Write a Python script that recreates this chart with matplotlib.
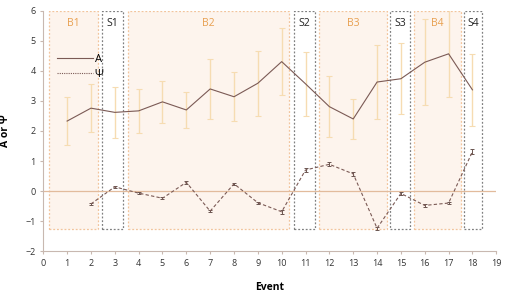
import matplotlib
matplotlib.use("Agg")
import matplotlib.pyplot as plt
from matplotlib.patches import Rectangle
from matplotlib.lines import Line2D

plt.rcParams['font.family'] = ['Open Sans', 'DejaVu Sans']

events = list(range(1, 19))
A = [2.33, 2.76, 2.62, 2.67, 2.97, 2.70, 3.40, 3.14, 3.59, 4.31, 3.57, 2.81, 2.40, 3.63, 3.74, 4.29, 4.57, 3.37]
A_err = [0.79, 0.81, 0.84, 0.73, 0.69, 0.60, 1.00, 0.81, 1.09, 1.11, 1.06, 1.02, 0.67, 1.23, 1.19, 1.43, 1.45, 1.21]
psi_events = list(range(2, 19))
psi = [-0.43, 0.14, -0.07, -0.24, 0.29, -0.67, 0.24, -0.39, -0.69, 0.70, 0.89, 0.57, -1.24, -0.08, -0.48, -0.40, 1.31]
psi_err = [0.04, 0.04, 0.04, 0.03, 0.04, 0.04, 0.04, 0.03, 0.07, 0.07, 0.07, 0.06, 0.05, 0.06, 0.04, 0.03, 0.08]

blocks = ["B1", "S1", "B2", "S2", "B3", "S3", "B4", "S4"]
block_start = [0.25, 2.46, 3.57, 10.5, 11.58, 14.54, 15.54, 17.66]
block_end = [2.28, 3.36, 10.3, 11.4, 14.42, 15.38, 17.5, 18.42]
block_top = 6.0
block_bottom = -1.27

fig = plt.figure(figsize=(5.09, 2.94), dpi=100)
ax = fig.add_axes([0.085, 0.146, 0.89, 0.817])

for name, s, e in zip(blocks, block_start, block_end):
    if name.startswith("B"):
        rect = Rectangle((s, block_bottom), e - s, block_top - block_bottom,
                         facecolor="#fdf4ed", edgecolor="#f2c49c", linestyle=(0, (1.5, 1.5)),
                         linewidth=0.9, zorder=0)
        tc = "#e8a050"
    else:
        rect = Rectangle((s, block_bottom), e - s, block_top - block_bottom,
                         facecolor="white", edgecolor="#808080", linestyle=(0, (1.5, 1.5)),
                         linewidth=0.9, zorder=0)
        tc = "#222222"
    ax.add_patch(rect)
    ax.text((s + e) / 2, 5.57, name, ha="center", va="center", fontsize=7.5, color=tc)

ax.axhline(0, color="#e2bb9c", linewidth=0.9, zorder=1)

ax.errorbar(events, A, yerr=A_err, fmt="none", ecolor="#f6dcb2", elinewidth=1.0,
            capsize=2, capthick=0.8, zorder=2)
ax.plot(events, A, color="#7b5a55", linewidth=0.8, zorder=3)

ax.errorbar(psi_events, psi, yerr=psi_err, fmt="none", ecolor="#6a5550", elinewidth=0.7,
            capsize=1.5, capthick=0.7, zorder=2)
ax.plot(psi_events, psi, color="#7b5a55", linewidth=0.8, linestyle=(0, (3, 2)), zorder=3)

ax.set_xlim(0, 19)
ax.set_ylim(-2, 6)
ax.set_xticks(range(0, 20))
ax.set_yticks(range(-2, 7))
ax.tick_params(labelsize=6.5, length=2, color="#c8b8b0", colors="#333333")
ax.tick_params(color="#c8b8b0")
for side in ["top", "right"]:
    ax.spines[side].set_visible(False)
for side in ["left", "bottom"]:
    ax.spines[side].set_color("#c8b8b0")
    ax.spines[side].set_linewidth(0.8)

ax.set_xlabel("Event", fontsize=7.5, fontweight="bold", labelpad=10)
ax.set_ylabel("A or Ψ", fontsize=7.5, fontweight="bold", labelpad=10)

hA = Line2D([], [], color="#7b5a55", linewidth=0.8)
hP = Line2D([], [], color="#7b5a55", linewidth=0.8, linestyle=(0, (1, 1)))
ax.legend([hA, hP], ["A", "Ψ"], loc="upper left", bbox_to_anchor=(0.02, 0.84),
          frameon=False, fontsize=8, handlelength=3.3, handletextpad=0.1,
          labelspacing=0.35, borderaxespad=0)

fig.savefig("out.png", dpi=100)
